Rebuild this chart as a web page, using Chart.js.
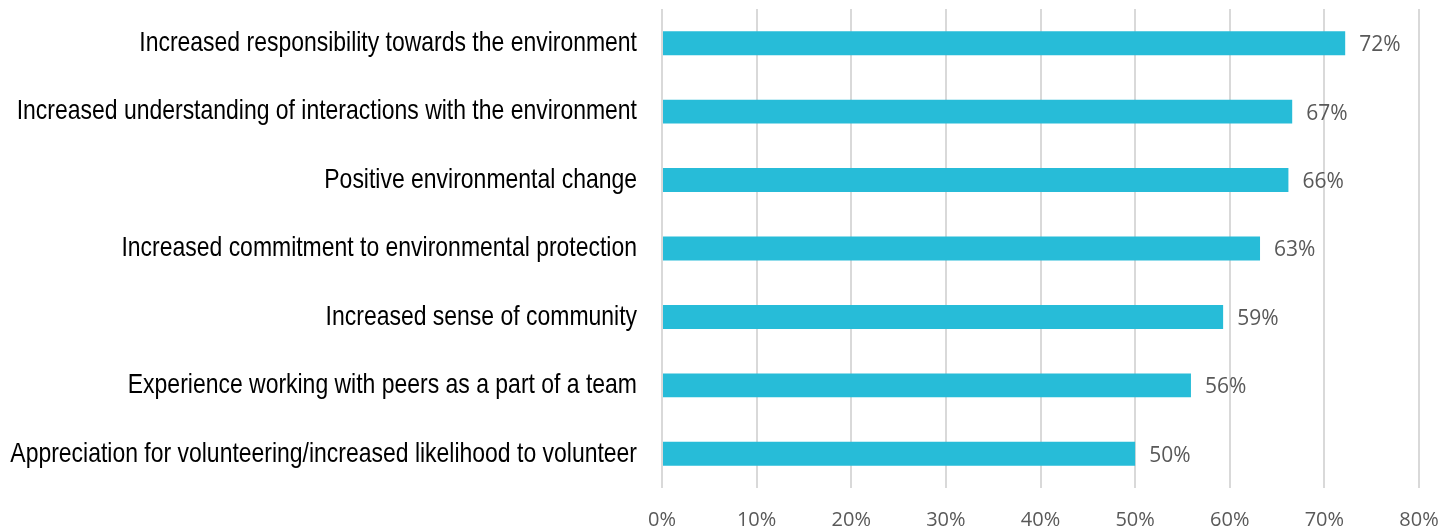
<!DOCTYPE html>
<html>
<head>
<meta charset="utf-8">
<script src="https://cdn.jsdelivr.net/npm/chart.js@4"></script>
<style>
  html, body { margin: 0; padding: 0; background: #fff; }
  #wrap { width: 1455px; height: 531px; }
</style>
</head>
<body>
<div id="wrap"><canvas id="chart"></canvas></div>
<script>
// Outcome categories (top to bottom)
const categories = [
  'Increased responsibility towards the environment',
  'Increased understanding of interactions with the environment',
  'Positive environmental change',
  'Increased commitment to environmental protection',
  'Increased sense of community',
  'Experience working with peers as a part of a team',
  'Appreciation for volunteering/increased likelihood to volunteer'
];
// Share of respondents (%)
const values = [72.2, 66.6, 66.2, 63.2, 59.3, 55.9, 50.0];
const tickMax = 80;
const tickStep = 10;

// value labels to the right of each bar
const valueLabels = {
  id: 'valueLabels',
  afterDatasetsDraw(chart) {
    const ctx = chart.ctx;
    const meta = chart.getDatasetMeta(0);
    ctx.save();
    ctx.font = '21px "Open Sans", sans-serif';
    ctx.fillStyle = '#595959';
    ctx.textAlign = 'left';
    ctx.textBaseline = 'middle';
    meta.data.forEach((bar, i) => {
      ctx.fillText(Math.round(values[i]) + '%', bar.x + 14, bar.y + 2);
    });
    ctx.restore();
  }
};

// category labels, drawn a bit condensed like the original
const categoryLabels = {
  id: 'categoryLabels',
  afterDraw(chart) {
    const ctx = chart.ctx;
    const yScale = chart.scales.y;
    const right = chart.chartArea.left - 25;
    const squeeze = 0.82;
    ctx.save();
    ctx.font = '28px "Liberation Sans", Arial, sans-serif';
    ctx.fillStyle = '#000';
    ctx.textAlign = 'right';
    ctx.textBaseline = 'middle';
    chart.data.labels.forEach((label, i) => {
      const y = yScale.getPixelForTick(i);
      ctx.save();
      ctx.translate(right, y);
      ctx.scale(squeeze, 1);
      ctx.fillText(label, 0, 0);
      ctx.restore();
    });
    ctx.restore();
  }
};

new Chart(document.getElementById('chart'), {
  type: 'bar',
  data: {
    labels: categories,
    datasets: [{
      data: values,
      backgroundColor: '#27bcd8',
      borderWidth: 0,
      barPercentage: 0.35,
      categoryPercentage: 1
    }]
  },
  plugins: [valueLabels, categoryLabels],
  options: {
    indexAxis: 'y',
    responsive: true,
    maintainAspectRatio: false,
    animation: false,
    layout: { padding: { top: 9, right: 36, left: 0, bottom: 0 } },
    plugins: {
      legend: { display: false },
      tooltip: { enabled: false }
    },
    scales: {
      x: {
        min: 0,
        max: tickMax,
        ticks: {
          stepSize: tickStep,
          padding: 20,
          color: '#595959',
          font: { family: '"Open Sans", sans-serif', size: 20 },
          callback: v => v + '%'
        },
        grid: { color: '#d9d9d9', lineWidth: 2, drawTicks: false },
        border: { display: false },
        afterFit(scale) {
          scale.height = 43;
          scale.paddingLeft = 0;
          scale.paddingRight = 0;
        }
      },
      y: {
        ticks: { display: false },
        grid: { display: false, drawTicks: false },
        border: { display: false },
        afterFit(scale) { scale.width = 662; }
      }
    }
  }
});
</script>
</body>
</html>
